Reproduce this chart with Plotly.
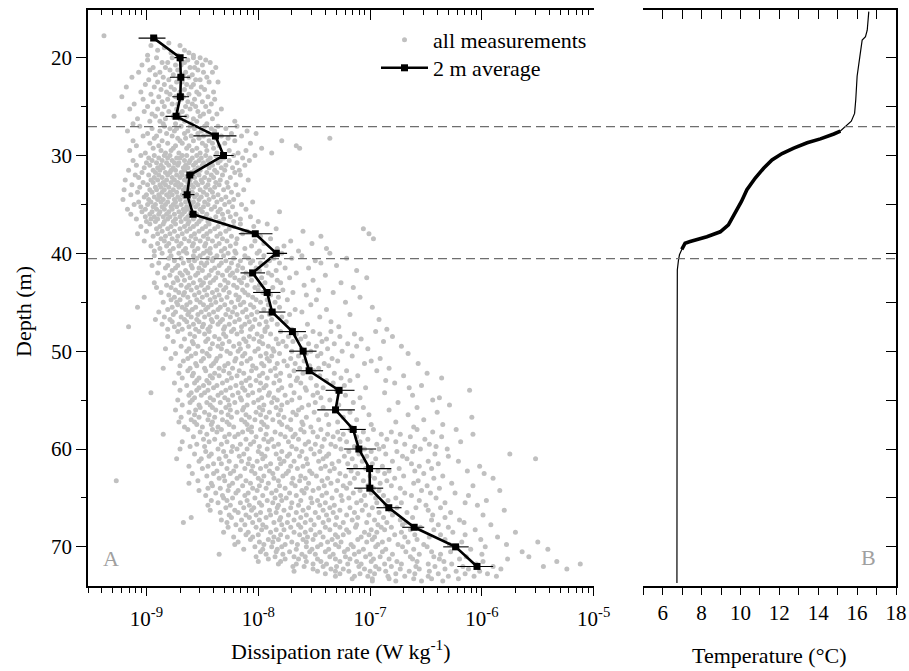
import numpy as np
import plotly.graph_objects as go

# ---------------------------------------------------------------------------
# Data
# ---------------------------------------------------------------------------

# Individual dissipation estimates: each row is "depth  log10(eps) ..."
cloud_rows = """
17.75 -9.38
18.00 -8.92
18.50 -8.80
18.75 -8.96 -8.70
19.00 -8.84
19.25 -8.66 -8.90
19.50 -8.78 -8.62
19.75 -8.99 -8.72 -8.58
20.00 -8.91 -8.77 -8.58 -8.52
20.25 -8.99 -8.70 -8.63 -8.47
20.50 -8.86 -8.81 -8.66 -8.55 -8.43
20.75 -9.04 -8.74 -8.69 -8.50
21.00 -8.94 -8.83 -8.61 -8.57 -8.38
21.25 -8.97 -8.79 -8.72 -8.54
21.50 -9.07 -8.88 -8.65 -8.49 -8.41
21.75 -8.92 -8.76 -8.67 -8.59
22.00 -9.13 -8.85 -8.71 -8.62 -8.46
22.25 -8.98 -8.80 -8.56 -8.52
22.50 -8.90 -8.73 -8.68 -8.44 -8.36
22.75 -9.01 -8.84 -8.64 -8.58
23.00 -9.18 -8.93 -8.78 -8.60 -8.51
23.25 -8.87 -8.75 -8.66 -8.48
23.50 -9.05 -8.82 -8.70 -8.55 -8.40
23.75 -8.96 -8.79 -8.62 -8.53
24.00 -9.22 -8.89 -8.74 -8.67 -8.45
24.25 -9.03 -8.81 -8.69 -8.57 -8.39
24.50 -8.94 -8.86 -8.63 -8.50
24.75 -9.11 -8.77 -8.72 -8.59 -8.42
25.00 -8.99 -8.84 -8.65 -8.56 -8.47
25.25 -9.15 -8.90 -8.73 -8.61 -8.33
25.50 -9.02 -8.80 -8.68 -8.54 -8.44
25.75 -8.95 -8.86 -8.71 -8.49 -8.37
26.00 -9.29 -8.92 -8.76 -8.64 -8.52
26.25 -9.08 -8.83 -8.70 -8.58 -8.41
26.50 -8.97 -8.88 -8.66 -8.55 -8.21
26.75 -9.12 -8.85 -8.74 -8.60 -8.46
27.00 -9.06 -8.84 -8.69 -8.61 -8.48 -8.36 -8.19
27.25 -8.95 -8.79 -8.73 -8.57 -8.42 -8.29
27.50 -9.17 -8.88 -8.75 -8.63 -8.51 -8.39 -8.10
27.75 -8.99 -8.82 -8.66 -8.54 -8.45 -8.24 -8.02
28.00 -9.03 -8.91 -8.77 -8.60 -8.49 -8.33 -8.15
28.25 -8.93 -8.72 -8.65 -8.53 -8.38 -8.27 -7.36
28.50 -9.12 -8.86 -8.70 -8.58 -8.44 -8.21 -7.79
28.75 -8.97 -8.81 -8.68 -8.50 -8.41 -8.30 -8.07
29.00 -9.09 -8.89 -8.74 -8.62 -8.47 -8.35 -7.66
29.25 -8.94 -8.76 -8.64 -8.55 -8.40 -7.97 -7.63
29.50 -9.15 -8.87 -8.78 -8.59 -8.46 -8.26 -8.11
29.75 -9.01 -8.83 -8.71 -8.52 -8.37 -8.18 -7.88
30.00 -9.05 -8.93 -8.84 -8.79 -8.68 -8.64 -8.55 -8.47 -8.38 -8.22 -8.03
30.25 -8.98 -8.89 -8.81 -8.73 -8.70 -8.59 -8.51 -8.43 -8.31 -8.14
30.50 -9.12 -8.95 -8.86 -8.77 -8.66 -8.61 -8.53 -8.45 -8.34 -8.26 -8.08
30.75 -9.00 -8.91 -8.82 -8.75 -8.71 -8.62 -8.56 -8.49 -8.36 -8.19
31.00 -9.09 -8.97 -8.87 -8.80 -8.72 -8.65 -8.58 -8.50 -8.41 -8.29 -8.12
31.25 -9.02 -8.90 -8.85 -8.76 -8.67 -8.63 -8.54 -8.44 -8.33 -8.23
31.50 -9.16 -8.94 -8.88 -8.78 -8.74 -8.66 -8.57 -8.52 -8.39 -8.30 -8.17
31.75 -9.04 -8.92 -8.83 -8.79 -8.69 -8.60 -8.55 -8.46 -8.37 -8.21
32.00 -9.10 -8.98 -8.89 -8.81 -8.73 -8.68 -8.59 -8.53 -8.42 -8.32 -8.16
32.25 -9.07 -8.93 -8.86 -8.77 -8.70 -8.64 -8.57 -8.48 -8.40 -8.25
32.50 -9.19 -8.96 -8.90 -8.82 -8.75 -8.66 -8.61 -8.51 -8.44 -8.34 -8.09
32.75 -9.03 -8.94 -8.85 -8.78 -8.72 -8.63 -8.56 -8.50 -8.38 -8.28
33.00 -9.13 -8.99 -8.88 -8.83 -8.74 -8.69 -8.60 -8.54 -8.45 -8.35 -8.20
33.25 -9.06 -8.92 -8.87 -8.80 -8.71 -8.65 -8.58 -8.47 -8.39 -8.27
33.50 -9.20 -8.97 -8.91 -8.84 -8.76 -8.67 -8.62 -8.52 -8.43 -8.31 -8.13
33.75 -9.08 -8.95 -8.86 -8.79 -8.73 -8.64 -8.59 -8.49 -8.41 -8.24
34.00 -9.14 -9.00 -8.89 -8.82 -8.77 -8.68 -8.61 -8.55 -8.46 -8.36 -8.18
34.25 -9.02 -8.93 -8.88 -8.80 -8.72 -8.66 -8.57 -8.51 -8.40 -8.29
34.50 -9.21 -8.98 -8.90 -8.85 -8.75 -8.70 -8.62 -8.53 -8.44 -8.33 -8.22
34.75 -9.07 -8.96 -8.87 -8.81 -8.74 -8.65 -8.58 -8.48 -8.37 -8.26 -8.05
35.00 -9.11 -8.99 -8.92 -8.83 -8.76 -8.69 -8.60 -8.54 -8.45 -8.30 -8.15
35.25 -9.05 -8.94 -8.86 -8.78 -8.73 -8.64 -8.56 -8.49 -8.39 -8.23
35.50 -9.17 -9.01 -8.91 -8.84 -8.77 -8.67 -8.63 -8.52 -8.42 -8.34 -8.11
35.75 -9.04 -8.95 -8.88 -8.80 -8.71 -8.66 -8.59 -8.50 -8.36 -8.27 -7.81
36.00 -9.14 -8.97 -8.89 -8.82 -8.75 -8.68 -8.61 -8.55 -8.46 -8.32 -8.20
36.25 -9.01 -8.93 -8.85 -8.79 -8.70 -8.63 -8.57 -8.47 -8.38 -8.25 -8.07
36.50 -9.09 -8.96 -8.90 -8.81 -8.74 -8.65 -8.58 -8.51 -8.43 -8.31 -8.16
36.75 -9.00 -8.92 -8.84 -8.76 -8.69 -8.62 -8.53 -8.45 -8.35 -8.22 -8.00
37.00 -8.97 -8.85 -8.74 -8.63 -8.55 -8.44 -8.31 -8.16 -7.92
37.25 -9.05 -8.88 -8.78 -8.66 -8.58 -8.47 -8.36 -8.22 -8.04
37.50 -8.91 -8.81 -8.70 -8.61 -8.50 -8.39 -8.26 -7.84 -7.06
37.75 -9.00 -8.86 -8.75 -8.64 -8.53 -8.43 -8.29 -8.10 -7.60
38.00 -9.08 -8.90 -8.79 -8.68 -8.57 -8.46 -8.34 -8.14 -7.01
38.25 -8.94 -8.83 -8.72 -8.60 -8.49 -8.37 -8.24 -7.98 -7.44
38.50 -8.87 -8.77 -8.66 -8.56 -8.45 -8.32 -8.19 -7.89 -6.97
38.75 -9.02 -8.84 -8.73 -8.62 -8.52 -8.41 -8.28 -8.03 -7.71
39.00 -8.90 -8.80 -8.69 -8.58 -8.47 -8.35 -8.20 -7.95 -7.52
39.25 -8.96 -8.82 -8.71 -8.59 -8.48 -8.38 -8.25 -8.06 -7.77
39.50 -8.88 -8.76 -8.65 -8.54 -8.43 -8.30 -8.12 -7.83 -7.39
39.75 -8.93 -8.79 -8.67 -8.57 -8.46 -8.33 -8.21 -7.99 -7.64
40.00 -8.86 -8.71 -8.64 -8.49 -8.43 -8.27 -8.20 -8.01 -7.79 -7.36
40.25 -8.93 -8.78 -8.58 -8.52 -8.37 -8.31 -8.12 -7.95 -7.61
40.50 -8.80 -8.69 -8.55 -8.45 -8.40 -8.22 -8.09 -7.86 -7.70 -7.21
40.75 -8.75 -8.62 -8.57 -8.41 -8.29 -8.16 -8.05 -7.90 -7.49
41.00 -8.89 -8.67 -8.51 -8.46 -8.33 -8.24 -8.07 -7.98 -7.81 -7.44
41.25 -8.95 -8.81 -8.72 -8.60 -8.48 -8.35 -8.18 -7.93 -7.30
41.50 -8.83 -8.74 -8.59 -8.53 -8.39 -8.26 -8.14 -8.02 -7.76 -7.55
41.75 -8.77 -8.65 -8.50 -8.42 -8.28 -8.19 -7.99 -7.84 -7.12
42.00 -8.90 -8.70 -8.63 -8.54 -8.36 -8.23 -8.11 -8.04 -7.91 -7.66
42.25 -8.79 -8.68 -8.56 -8.44 -8.32 -8.25 -8.08 -7.88 -7.40
42.50 -8.84 -8.73 -8.61 -8.47 -8.38 -8.21 -8.13 -7.97 -7.72 -7.03
42.75 -8.72 -8.66 -8.52 -8.40 -8.30 -8.17 -8.06 -7.83 -7.51
43.00 -8.93 -8.76 -8.58 -8.49 -8.43 -8.27 -8.15 -7.94 -7.80 -7.26
43.25 -8.82 -8.69 -8.62 -8.51 -8.34 -8.22 -8.10 -7.99 -7.59
43.50 -8.91 -8.78 -8.64 -8.55 -8.45 -8.29 -8.19 -8.03 -7.87 -7.15
43.75 -8.74 -8.60 -8.48 -8.37 -8.31 -8.14 -8.00 -7.78 -7.46
44.00 -8.87 -8.71 -8.66 -8.53 -8.41 -8.26 -8.12 -7.96 -7.69 -7.33
44.25 -8.80 -8.67 -8.57 -8.46 -8.35 -8.20 -8.09 -7.89 -7.57
44.50 -9.02 -8.75 -8.63 -8.50 -8.39 -8.28 -8.17 -8.05 -7.82 -7.09
44.75 -8.78 -8.70 -8.55 -8.43 -8.33 -8.18 -8.02 -7.92 -7.74 -7.48
45.00 -8.85 -8.73 -8.61 -8.52 -8.38 -8.24 -8.13 -7.98 -7.85 -7.22
45.25 -8.72 -8.64 -8.49 -8.42 -8.30 -8.16 -8.07 -7.91 -7.53
45.50 -9.08 -8.77 -8.68 -8.56 -8.45 -8.34 -8.21 -8.04 -7.81 -6.98
45.75 -8.81 -8.65 -8.59 -8.47 -8.36 -8.27 -8.11 -7.95 -7.67 -7.39
46.00 -8.89 -8.74 -8.62 -8.51 -8.40 -8.23 -8.14 -8.01 -7.86 -7.61
46.25 -8.76 -8.63 -8.54 -8.44 -8.29 -8.19 -8.06 -7.90 -7.72 -7.18
46.50 -8.84 -8.69 -8.60 -8.48 -8.37 -8.25 -8.10 -7.97 -7.79 -7.45
46.75 -8.92 -8.79 -8.66 -8.55 -8.42 -8.32 -8.17 -8.03 -7.88 -6.92
47.00 -8.77 -8.64 -8.53 -8.41 -8.34 -8.21 -8.08 -7.93 -7.75 -7.35
47.25 -8.86 -8.71 -8.58 -8.49 -8.36 -8.26 -8.12 -7.99 -7.83 -7.56
47.50 -9.16 -8.75 -8.62 -8.50 -8.43 -8.30 -8.15 -8.05 -7.92 -7.28
47.75 -8.81 -8.68 -8.56 -8.45 -8.31 -8.22 -8.07 -7.94 -7.70 -6.85
48.00 -8.72 -8.53 -8.44 -8.24 -8.15 -7.94 -7.80 -7.51 -7.35 -6.95
48.25 -8.61 -8.48 -8.31 -8.19 -8.01 -7.89 -7.66 -7.45 -7.14
48.50 -8.81 -8.57 -8.39 -8.29 -8.08 -7.97 -7.73 -7.58 -7.27 -6.80
48.75 -8.66 -8.45 -8.35 -8.13 -8.04 -7.84 -7.62 -7.39 -7.08
49.00 -8.76 -8.59 -8.47 -8.26 -8.11 -7.99 -7.78 -7.69 -7.43 -6.88
49.25 -8.58 -8.41 -8.32 -8.17 -7.96 -7.82 -7.55 -7.32 -7.20
49.50 -8.69 -8.54 -8.36 -8.22 -8.09 -7.91 -7.75 -7.48 -7.12 -6.72
49.75 -8.83 -8.62 -8.43 -8.33 -8.16 -8.00 -7.87 -7.61 -7.38 -7.02
50.00 -8.64 -8.50 -8.28 -8.18 -8.03 -7.86 -7.70 -7.53 -7.25
50.25 -8.74 -8.56 -8.46 -8.25 -8.12 -7.93 -7.81 -7.57 -7.44 -6.66
50.50 -8.60 -8.44 -8.34 -8.14 -7.98 -7.88 -7.64 -7.47 -7.16
50.75 -8.78 -8.63 -8.49 -8.37 -8.20 -8.07 -7.92 -7.71 -7.34 -6.91
51.00 -8.67 -8.51 -8.38 -8.21 -8.10 -7.90 -7.77 -7.59 -7.29 -6.99
51.25 -8.56 -8.40 -8.27 -8.15 -7.97 -7.83 -7.67 -7.41 -7.05 -6.57
51.50 -8.70 -8.55 -8.42 -8.30 -8.05 -7.95 -7.74 -7.54 -7.37
51.75 -8.85 -8.61 -8.48 -8.35 -8.23 -8.02 -7.85 -7.63 -7.46 -6.83
52.00 -8.63 -8.47 -8.31 -8.17 -8.06 -7.89 -7.68 -7.50 -7.21 -6.94
52.25 -8.71 -8.58 -8.39 -8.26 -8.13 -7.96 -7.80 -7.60 -7.32 -6.49
52.50 -8.59 -8.43 -8.35 -8.19 -7.99 -7.84 -7.72 -7.45 -7.11 -6.70
52.75 -8.68 -8.53 -8.41 -8.24 -8.08 -7.92 -7.65 -7.53 -7.26 -6.36
53.00 -8.55 -8.46 -8.28 -8.11 -8.02 -7.81 -7.66 -7.39 -7.18 -6.86
53.25 -8.75 -8.57 -8.44 -8.32 -8.15 -7.98 -7.86 -7.62 -7.33 -6.78
53.50 -8.64 -8.49 -8.37 -8.20 -8.07 -7.93 -7.71 -7.48 -7.23 -6.54
53.75 -8.53 -8.40 -8.25 -8.14 -7.95 -7.79 -7.58 -7.42 -7.04 -6.65
54.00 -8.70 -8.55 -8.45 -8.29 -8.12 -7.99 -7.82 -7.57 -7.30 -6.11
54.25 -8.96 -8.60 -8.48 -8.33 -8.18 -8.05 -7.90 -7.68 -7.47 -6.87
54.50 -8.62 -8.51 -8.36 -8.23 -8.09 -7.91 -7.76 -7.51 -7.22 -6.62
54.75 -8.57 -8.43 -8.30 -8.16 -7.97 -7.86 -7.63 -7.44 -7.09 -6.38
55.00 -8.72 -8.59 -8.40 -8.27 -8.15 -8.00 -7.83 -7.70 -7.36 -6.44
55.25 -8.61 -8.46 -8.34 -8.21 -8.04 -7.88 -7.74 -7.49 -7.15 -6.75
55.50 -8.68 -8.53 -8.43 -8.26 -8.10 -7.95 -7.79 -7.55 -7.28 -6.29
55.75 -8.52 -8.41 -8.29 -8.13 -7.99 -7.84 -7.61 -7.42 -7.06 -6.58
56.00 -8.74 -8.56 -8.38 -8.25 -8.14 -7.96 -7.80 -7.64 -7.31 -6.83
56.25 -8.62 -8.48 -8.33 -8.19 -8.02 -7.90 -7.69 -7.50 -7.18 -6.40
56.50 -8.57 -8.44 -8.27 -8.11 -7.98 -7.82 -7.66 -7.39 -7.01 -6.66
56.75 -8.69 -8.53 -8.39 -8.24 -8.08 -7.93 -7.77 -7.57 -7.24 -6.09
57.00 -8.60 -8.45 -8.32 -8.15 -8.03 -7.87 -7.71 -7.46 -7.12 -6.52
57.25 -8.71 -8.57 -8.41 -8.28 -8.12 -7.97 -7.81 -7.61 -7.29 -6.77
57.50 -8.55 -8.42 -8.26 -8.10 -7.95 -7.79 -7.60 -7.37 -6.99 -6.35
57.75 -8.66 -8.50 -8.36 -8.22 -8.06 -7.92 -7.74 -7.53 -7.17 -6.61
58.00 -8.63 -8.41 -8.33 -8.09 -7.98 -7.71 -7.62 -7.44 -7.18 -6.97 -6.58 -6.23
58.25 -8.52 -8.37 -8.14 -8.06 -7.85 -7.59 -7.51 -7.29 -7.06 -6.81 -6.44
58.50 -8.85 -8.46 -8.26 -8.18 -7.93 -7.80 -7.67 -7.38 -7.24 -6.90 -6.73 -6.08
58.75 -8.58 -8.30 -8.21 -8.02 -7.76 -7.69 -7.47 -7.33 -7.12 -6.64 -6.36
59.00 -8.49 -8.39 -8.11 -7.95 -7.88 -7.64 -7.41 -7.27 -7.02 -6.85 -6.51
59.25 -8.68 -8.44 -8.28 -8.04 -7.91 -7.73 -7.55 -7.21 -7.09 -6.77 -6.19
59.50 -8.55 -8.33 -8.16 -8.07 -7.82 -7.58 -7.49 -7.35 -6.94 -6.69 -6.47
59.75 -8.61 -8.48 -8.23 -7.99 -7.86 -7.70 -7.43 -7.31 -7.14 -6.88 -6.60 -6.41
60.00 -8.70 -8.36 -8.19 -8.10 -7.92 -7.66 -7.53 -7.26 -7.05 -6.92 -6.55 -6.31
60.25 -8.47 -8.31 -8.24 -8.00 -7.79 -7.61 -7.45 -7.19 -6.99 -6.76 -6.62
60.50 -8.57 -8.42 -8.13 -7.97 -7.84 -7.72 -7.50 -7.37 -7.10 -6.86 -6.42 -5.75
60.75 -8.44 -8.29 -8.17 -7.94 -7.74 -7.63 -7.39 -7.23 -7.03 -6.71 -6.30
61.00 -8.73 -8.51 -8.35 -8.08 -7.96 -7.81 -7.57 -7.42 -7.16 -6.95 -6.67 -5.52
61.25 -8.53 -8.26 -8.15 -8.01 -7.77 -7.68 -7.46 -7.28 -7.07 -6.80 -6.48 -6.21
61.50 -8.40 -8.33 -8.09 -7.89 -7.80 -7.56 -7.34 -7.20 -6.98 -6.63 -6.39
61.75 -8.62 -8.45 -8.20 -8.05 -7.93 -7.71 -7.60 -7.40 -7.13 -6.89 -6.56 -6.02
62.00 -8.50 -8.28 -8.12 -7.98 -7.83 -7.65 -7.44 -7.32 -7.04 -6.74 -6.45
62.25 -8.37 -8.22 -8.06 -7.90 -7.73 -7.54 -7.36 -7.17 -6.93 -6.83 -6.60 -6.13
62.50 -8.59 -8.40 -8.25 -8.03 -7.87 -7.75 -7.52 -7.27 -7.11 -6.87 -6.52 -5.98
62.75 -8.46 -8.31 -8.16 -7.95 -7.78 -7.62 -7.48 -7.22 -7.00 -6.70 -6.35
63.00 -8.35 -8.19 -8.00 -7.86 -7.69 -7.58 -7.38 -7.14 -6.96 -6.78 -6.43 -5.90
63.25 -9.27 -8.54 -8.30 -8.11 -7.97 -7.82 -7.63 -7.43 -7.29 -7.06 -6.85 -6.57
63.50 -8.62 -8.42 -8.23 -8.07 -7.91 -7.70 -7.55 -7.35 -7.18 -6.91 -6.61 -6.27
63.75 -8.41 -8.26 -8.14 -7.99 -7.81 -7.67 -7.41 -7.24 -7.02 -6.81 -6.49 -6.08
64.00 -8.45 -8.34 -8.05 -7.93 -7.76 -7.57 -7.46 -7.21 -6.97 -6.73 -6.38
64.25 -8.53 -8.27 -8.18 -8.01 -7.84 -7.61 -7.51 -7.30 -7.09 -6.92 -6.54 -5.84
64.50 -8.38 -8.20 -8.09 -7.88 -7.72 -7.59 -7.39 -7.15 -6.99 -6.69 -6.46 -6.24
64.75 -8.47 -8.32 -8.12 -7.96 -7.80 -7.66 -7.43 -7.26 -7.05 -6.88 -6.63 -6.12
65.00 -8.31 -8.23 -8.03 -7.85 -7.75 -7.53 -7.34 -7.19 -6.95 -6.77 -6.41
65.25 -8.42 -8.28 -8.10 -7.92 -7.79 -7.62 -7.47 -7.25 -7.08 -6.84 -6.56 -5.96
65.50 -8.36 -8.16 -7.99 -7.87 -7.70 -7.52 -7.40 -7.12 -6.94 -6.72 -6.33 -6.15
65.75 -8.45 -8.25 -8.08 -7.97 -7.82 -7.64 -7.45 -7.32 -7.04 -6.86 -6.50 -6.04
66.00 -8.29 -8.13 -8.04 -7.83 -7.71 -7.55 -7.36 -7.18 -6.98 -6.76 -6.59 -6.37
66.25 -8.43 -8.21 -8.06 -7.90 -7.77 -7.60 -7.42 -7.27 -7.07 -6.82 -6.48 -5.80
66.50 -8.34 -8.18 -7.98 -7.84 -7.66 -7.49 -7.33 -7.14 -6.92 -6.67 -6.28
66.75 -8.26 -8.11 -8.02 -7.89 -7.73 -7.57 -7.39 -7.21 -7.01 -6.80 -6.44 -5.99
67.00 -8.60 -8.24 -8.08 -7.93 -7.80 -7.62 -7.46 -7.30 -7.11 -6.88 -6.62 -6.33
67.25 -8.33 -8.15 -7.99 -7.81 -7.68 -7.53 -7.37 -7.16 -6.96 -6.73 -6.45 -6.20
67.50 -8.67 -8.28 -8.05 -7.86 -7.74 -7.58 -7.42 -7.24 -7.03 -6.85 -6.68 -6.16
67.75 -8.20 -8.12 -7.96 -7.79 -7.64 -7.50 -7.31 -7.12 -6.93 -6.71 -6.39 -5.92
68.00 -8.27 -8.02 -7.93 -7.71 -7.62 -7.40 -7.27 -7.13 -6.90 -6.81 -6.55 -6.30
68.25 -8.16 -7.97 -7.84 -7.77 -7.53 -7.36 -7.21 -6.99 -6.87 -6.64 -6.43 -6.06
68.50 -8.31 -8.09 -7.89 -7.68 -7.58 -7.45 -7.19 -7.05 -6.94 -6.72 -6.26 -5.70
68.75 -8.11 -8.00 -7.80 -7.63 -7.49 -7.31 -7.24 -7.01 -6.78 -6.60 -6.37 -6.15
69.00 -8.22 -8.05 -7.86 -7.74 -7.56 -7.42 -7.29 -7.08 -6.96 -6.69 -6.47 -5.86
69.25 -8.07 -7.91 -7.82 -7.60 -7.51 -7.34 -7.11 -6.98 -6.83 -6.58 -6.33 -6.01
69.50 -8.18 -7.99 -7.87 -7.70 -7.57 -7.38 -7.26 -7.03 -6.89 -6.66 -6.18 -5.50
69.75 -8.21 -7.95 -7.76 -7.65 -7.44 -7.31 -7.17 -6.93 -6.75 -6.52 -6.29 -5.78
70.00 -8.03 -7.88 -7.79 -7.57 -7.47 -7.28 -7.15 -6.95 -6.71 -6.49 -6.22 -5.97
70.25 -8.13 -7.96 -7.83 -7.66 -7.52 -7.37 -7.20 -7.06 -6.86 -6.61 -6.10 -5.41
70.50 -7.98 -7.84 -7.72 -7.54 -7.40 -7.23 -7.10 -6.89 -6.68 -6.45 -6.28 -5.64
70.75 -8.35 -7.93 -7.78 -7.61 -7.49 -7.33 -7.14 -7.00 -6.80 -6.56 -6.37 -6.00
71.00 -8.02 -7.85 -7.68 -7.58 -7.36 -7.22 -7.04 -6.91 -6.64 -6.43 -6.14 -5.58
71.25 -7.91 -7.76 -7.64 -7.47 -7.31 -7.18 -6.97 -6.83 -6.62 -6.38 -6.20 -5.77
71.50 -8.00 -7.80 -7.57 -7.44 -7.27 -7.12 -6.99 -6.76 -6.58 -6.34 -5.99 -5.33
71.75 -7.82 -7.66 -7.51 -7.39 -7.20 -7.08 -6.87 -6.72 -6.48 -6.27 -6.05 -5.12
72.00 -7.69 -7.59 -7.42 -7.30 -7.10 -6.95 -6.81 -6.59 -6.42 -6.17 -5.90 -5.45
72.25 -7.51 -7.35 -7.24 -7.05 -6.92 -6.73 -6.56 -6.33 -6.12 -5.83 -5.24
72.50 -7.68 -7.47 -7.31 -7.19 -7.00 -6.86 -6.65 -6.47 -6.23 -6.02
72.75 -7.40 -7.27 -7.09 -6.96 -6.77 -6.60 -6.39 -6.15 -5.95
73.00 -7.31 -7.14 -7.02 -6.84 -6.69 -6.48 -6.30 -6.07 -5.87
73.25 -7.16 -6.98 -6.83 -6.61 -6.45 -6.21
73.50 -6.98 -6.77 -6.54 -6.35
"""

# 2 m bin averages of the dissipation rate (W/kg) with their confidence limits
avg_depth = [18, 20, 22, 24, 26, 28, 30, 32, 34, 36, 38, 40, 42, 44,
             46, 48, 50, 52, 54, 56, 58, 60, 62, 64, 66, 68, 70, 72]
avg_eps = [1.16e-9, 2.00e-9, 2.03e-9, 2.01e-9, 1.84e-9, 4.14e-9, 4.89e-9,
           2.44e-9, 2.31e-9, 2.61e-9, 9.40e-9, 1.45e-8, 8.90e-9, 1.20e-8,
           1.33e-8, 2.02e-8, 2.52e-8, 2.85e-8, 5.28e-8, 4.91e-8, 7.06e-8,
           7.94e-8, 9.90e-8, 9.95e-8, 1.47e-7, 2.48e-7, 5.82e-7, 9.04e-7]
avg_eps_low = [8.5e-10, 1.78e-9, 1.62e-9, 1.70e-9, 1.48e-9, 2.63e-9, 3.98e-9,
               2.24e-9, 2.09e-9, 2.40e-9, 6.70e-9, 1.19e-8, 6.93e-9, 8.99e-9,
               1.02e-8, 1.51e-8, 1.89e-8, 2.17e-8, 4.00e-8, 3.37e-8, 5.37e-8,
               5.86e-8, 6.17e-8, 7.21e-8, 1.14e-7, 1.94e-7, 4.51e-7, 6.03e-7]
avg_eps_high = [1.48e-9, 2.29e-9, 2.45e-9, 2.40e-9, 2.29e-9, 6.38e-9, 6.03e-9,
                2.69e-9, 2.69e-9, 2.82e-9, 1.34e-8, 1.81e-8, 1.15e-8, 1.58e-8,
                1.75e-8, 2.67e-8, 3.32e-8, 3.80e-8, 7.26e-8, 7.31e-8, 9.16e-8,
                1.13e-7, 1.55e-7, 1.31e-7, 1.91e-7, 3.05e-7, 7.62e-7, 1.26e-6]

# Temperature profile
temp_depth = [15.3, 15.8, 17.2, 17.85, 18.2, 19.9, 21.9, 24.3, 25.7, 26.5,
              27.0, 27.5, 27.8, 28.3, 28.7, 29.25, 29.8, 30.45, 31.3, 32.3,
              33.5, 34.7, 35.9, 37.1, 37.8, 38.3, 38.8, 38.96, 39.6, 40.15,
              40.7, 41.7, 50.0, 60.0, 73.7]
temp_c = [16.60, 16.57, 16.52, 16.43, 16.26, 16.14, 16.00, 15.93, 15.87, 15.70,
          15.40, 15.14, 14.80, 14.11, 13.43, 12.74, 12.14, 11.62, 11.19, 10.76,
          10.33, 10.05, 9.70, 9.38, 8.96, 8.27, 7.41, 7.15, 6.98, 6.86,
          6.81, 6.75, 6.74, 6.74, 6.73]

# Depths of the mixed-layer base and the thermocline base
layer_depths = [27.05, 40.55]

# Tick labels
eps_major = [1e-9, 1e-8, 1e-7, 1e-6, 1e-5]
eps_major_text = ["10<sup>-9</sup>", "10<sup>-8</sup>", "10<sup>-7</sup>",
                  "10<sup>-6</sup>", "10<sup>-5</sup>"]
depth_major = [20, 30, 40, 50, 60, 70]
depth_minor = [25, 35, 45, 55, 65]
temp_major = [6, 8, 10, 12, 14, 16, 18]
temp_minor = [5, 7, 9, 11, 13, 15, 17]

# ---------------------------------------------------------------------------
# Derived arrays
# ---------------------------------------------------------------------------
cloud_depth, cloud_log = [], []
for row in cloud_rows.strip().splitlines():
    d, *vals = row.split()
    for v in vals:
        cloud_depth.append(float(d))
        cloud_log.append(float(v))
cloud_eps = 10.0 ** np.array(cloud_log)

avg_eps_a = np.array(avg_eps)
err_minus = avg_eps_a - np.array(avg_eps_low)
err_plus = np.array(avg_eps_high) - avg_eps_a

eps_minor = [m * 10.0 ** e for e in range(-10, -5) for m in range(2, 10)
             if 3e-10 * 0.999 <= m * 10.0 ** e <= 1e-5]

td = np.array(temp_depth)
tc = np.array(temp_c)
thick = (td >= 27.5) & (td <= 39.6)

# ---------------------------------------------------------------------------
# Figure
# ---------------------------------------------------------------------------
FONT = "Liberation Serif, Times New Roman, serif"
W, H = 909, 671
ML, MR, MT, MB = 88, 13, 10, 85
PW, PH = W - ML - MR, H - MT - MB


def px_x(x):
    return (x - ML) / PW


def px_y(y):
    return 1 - (y - MT) / PH


dom_a = [0, px_x(593.7)]
dom_b = [px_x(643.3), 1]
y_range = [74.0, 15.13]
x_range_a = [np.log10(3e-10), -5]

fig = go.Figure()

fig.add_trace(go.Scatter(
    x=cloud_eps, y=cloud_depth, mode="markers", name="all measurements",
    marker=dict(color="#c0c0c0", size=5, line=dict(width=0)),
    xaxis="x", yaxis="y", hoverinfo="skip", legend="legend"))

fig.add_trace(go.Scatter(
    x=avg_eps, y=avg_depth, mode="lines+markers", name="2 m average",
    line=dict(color="black", width=2.6),
    marker=dict(color="black", symbol="square", size=7),
    error_x=dict(type="data", symmetric=False, array=err_plus,
                 arrayminus=err_minus, color="black", thickness=1.1, width=0),
    xaxis="x", yaxis="y", hoverinfo="skip", legend="legend2"))

fig.add_trace(go.Scatter(
    x=tc, y=td, mode="lines", showlegend=False,
    line=dict(color="black", width=1.2), xaxis="x2", yaxis="y2",
    hoverinfo="skip"))
fig.add_trace(go.Scatter(
    x=tc[thick], y=td[thick], mode="lines", showlegend=False,
    line=dict(color="black", width=3.6), xaxis="x2", yaxis="y2",
    hoverinfo="skip"))

# empty traces that carry the top mirror axes
fig.add_trace(go.Scatter(x=[], y=[], xaxis="x3", yaxis="y", showlegend=False))
fig.add_trace(go.Scatter(x=[], y=[], xaxis="x4", yaxis="y2", showlegend=False))

tickfont = dict(family=FONT, size=21, color="black")
axis_common = dict(showgrid=False, zeroline=False, showline=True,
                   linecolor="black", linewidth=1.8, tickcolor="black",
                   tickwidth=1.4, tickfont=tickfont, automargin=False)

fig.update_layout(
    xaxis=dict(type="log", range=x_range_a, domain=dom_a, anchor="y",
               ticks="outside", ticklen=8, tickvals=eps_major,
               ticktext=eps_major_text, ticklabelstandoff=5,
               minor=dict(tickvals=eps_minor, ticks="outside", ticklen=5,
                          tickwidth=1.2, tickcolor="black", showgrid=False),
               **axis_common),
    xaxis3=dict(type="log", range=x_range_a, overlaying="x", side="top",
                anchor="y", ticks="inside", ticklen=10, tickvals=eps_major,
                showticklabels=False,
                minor=dict(tickvals=eps_minor, ticks="inside", ticklen=5,
                           tickwidth=1.2, tickcolor="black", showgrid=False),
                **axis_common),
    yaxis=dict(range=y_range, domain=[0, 1], anchor="x", ticks="outside",
               ticklen=10, tickvals=depth_major,
               minor=dict(tickvals=depth_minor, ticks="outside", ticklen=5,
                          tickwidth=1.2, tickcolor="black", showgrid=False),
               **axis_common),
    xaxis2=dict(range=[5, 18], domain=dom_b, anchor="y2", ticks="outside",
                ticklen=7, tickvals=temp_major, ticklabelstandoff=0,
                minor=dict(tickvals=temp_minor, ticks="outside", ticklen=7,
                           tickwidth=1.4, tickcolor="black", showgrid=False),
                **axis_common),
    xaxis4=dict(range=[5, 18], overlaying="x2", side="top", anchor="y2",
                ticks="inside", ticklen=9, tickvals=temp_major + temp_minor,
                showticklabels=False, **axis_common),
    yaxis2=dict(range=y_range, domain=[0, 1], anchor="x2", side="right",
                ticks="inside", ticklen=10,
                tickvals=sorted(depth_major + depth_minor),
                showticklabels=False, **axis_common),
)

for d in layer_depths:
    fig.add_shape(type="line", xref="paper", x0=0, x1=1, yref="y", y0=d, y1=d,
                  line=dict(color="#6e6e6e", width=1.2, dash="9px,5px"),
                  layer="above")

title_font = dict(family=FONT, size=22, color="black")
fig.add_annotation(text="Dissipation rate (W kg<sup>-1</sup>)",
                   x=px_x(341), y=px_y(650), xref="paper", yref="paper",
                   showarrow=False, font=title_font, xanchor="center",
                   yanchor="middle")
fig.add_annotation(text="Temperature (°C)",
                   x=px_x(769), y=px_y(655), xref="paper", yref="paper",
                   showarrow=False, font=title_font, xanchor="center",
                   yanchor="middle")
fig.add_annotation(text="Depth (m)", textangle=-90,
                   x=px_x(23), y=px_y(312), xref="paper", yref="paper",
                   showarrow=False, font=title_font, xanchor="center",
                   yanchor="middle")
panel_font = dict(family=FONT, size=22, color="#a0a0a0")
fig.add_annotation(text="A", x=px_x(101), y=px_y(573), xref="paper",
                   yref="paper", showarrow=False, font=panel_font)
fig.add_annotation(text="B", x=px_x(878), y=px_y(572), xref="paper",
                   yref="paper", showarrow=False, font=panel_font)

legend_style = dict(xanchor="left", yanchor="top", bgcolor="rgba(0,0,0,0)",
                    borderwidth=0, itemwidth=47,
                    font=dict(family=FONT, size=22, color="black"))

fig.update_layout(
    width=W, height=H, autosize=False,
    margin=dict(l=ML, r=MR, t=MT, b=MB, pad=0),
    paper_bgcolor="white", plot_bgcolor="white",
    font=dict(family=FONT, size=21, color="black"),
    hovermode=False,
    legend=dict(x=px_x(376), y=px_y(19), **legend_style),
    legend2=dict(x=px_x(376), y=px_y(47), **legend_style),
)

fig.write_html("out.html", config={"displayModeBar": False})
